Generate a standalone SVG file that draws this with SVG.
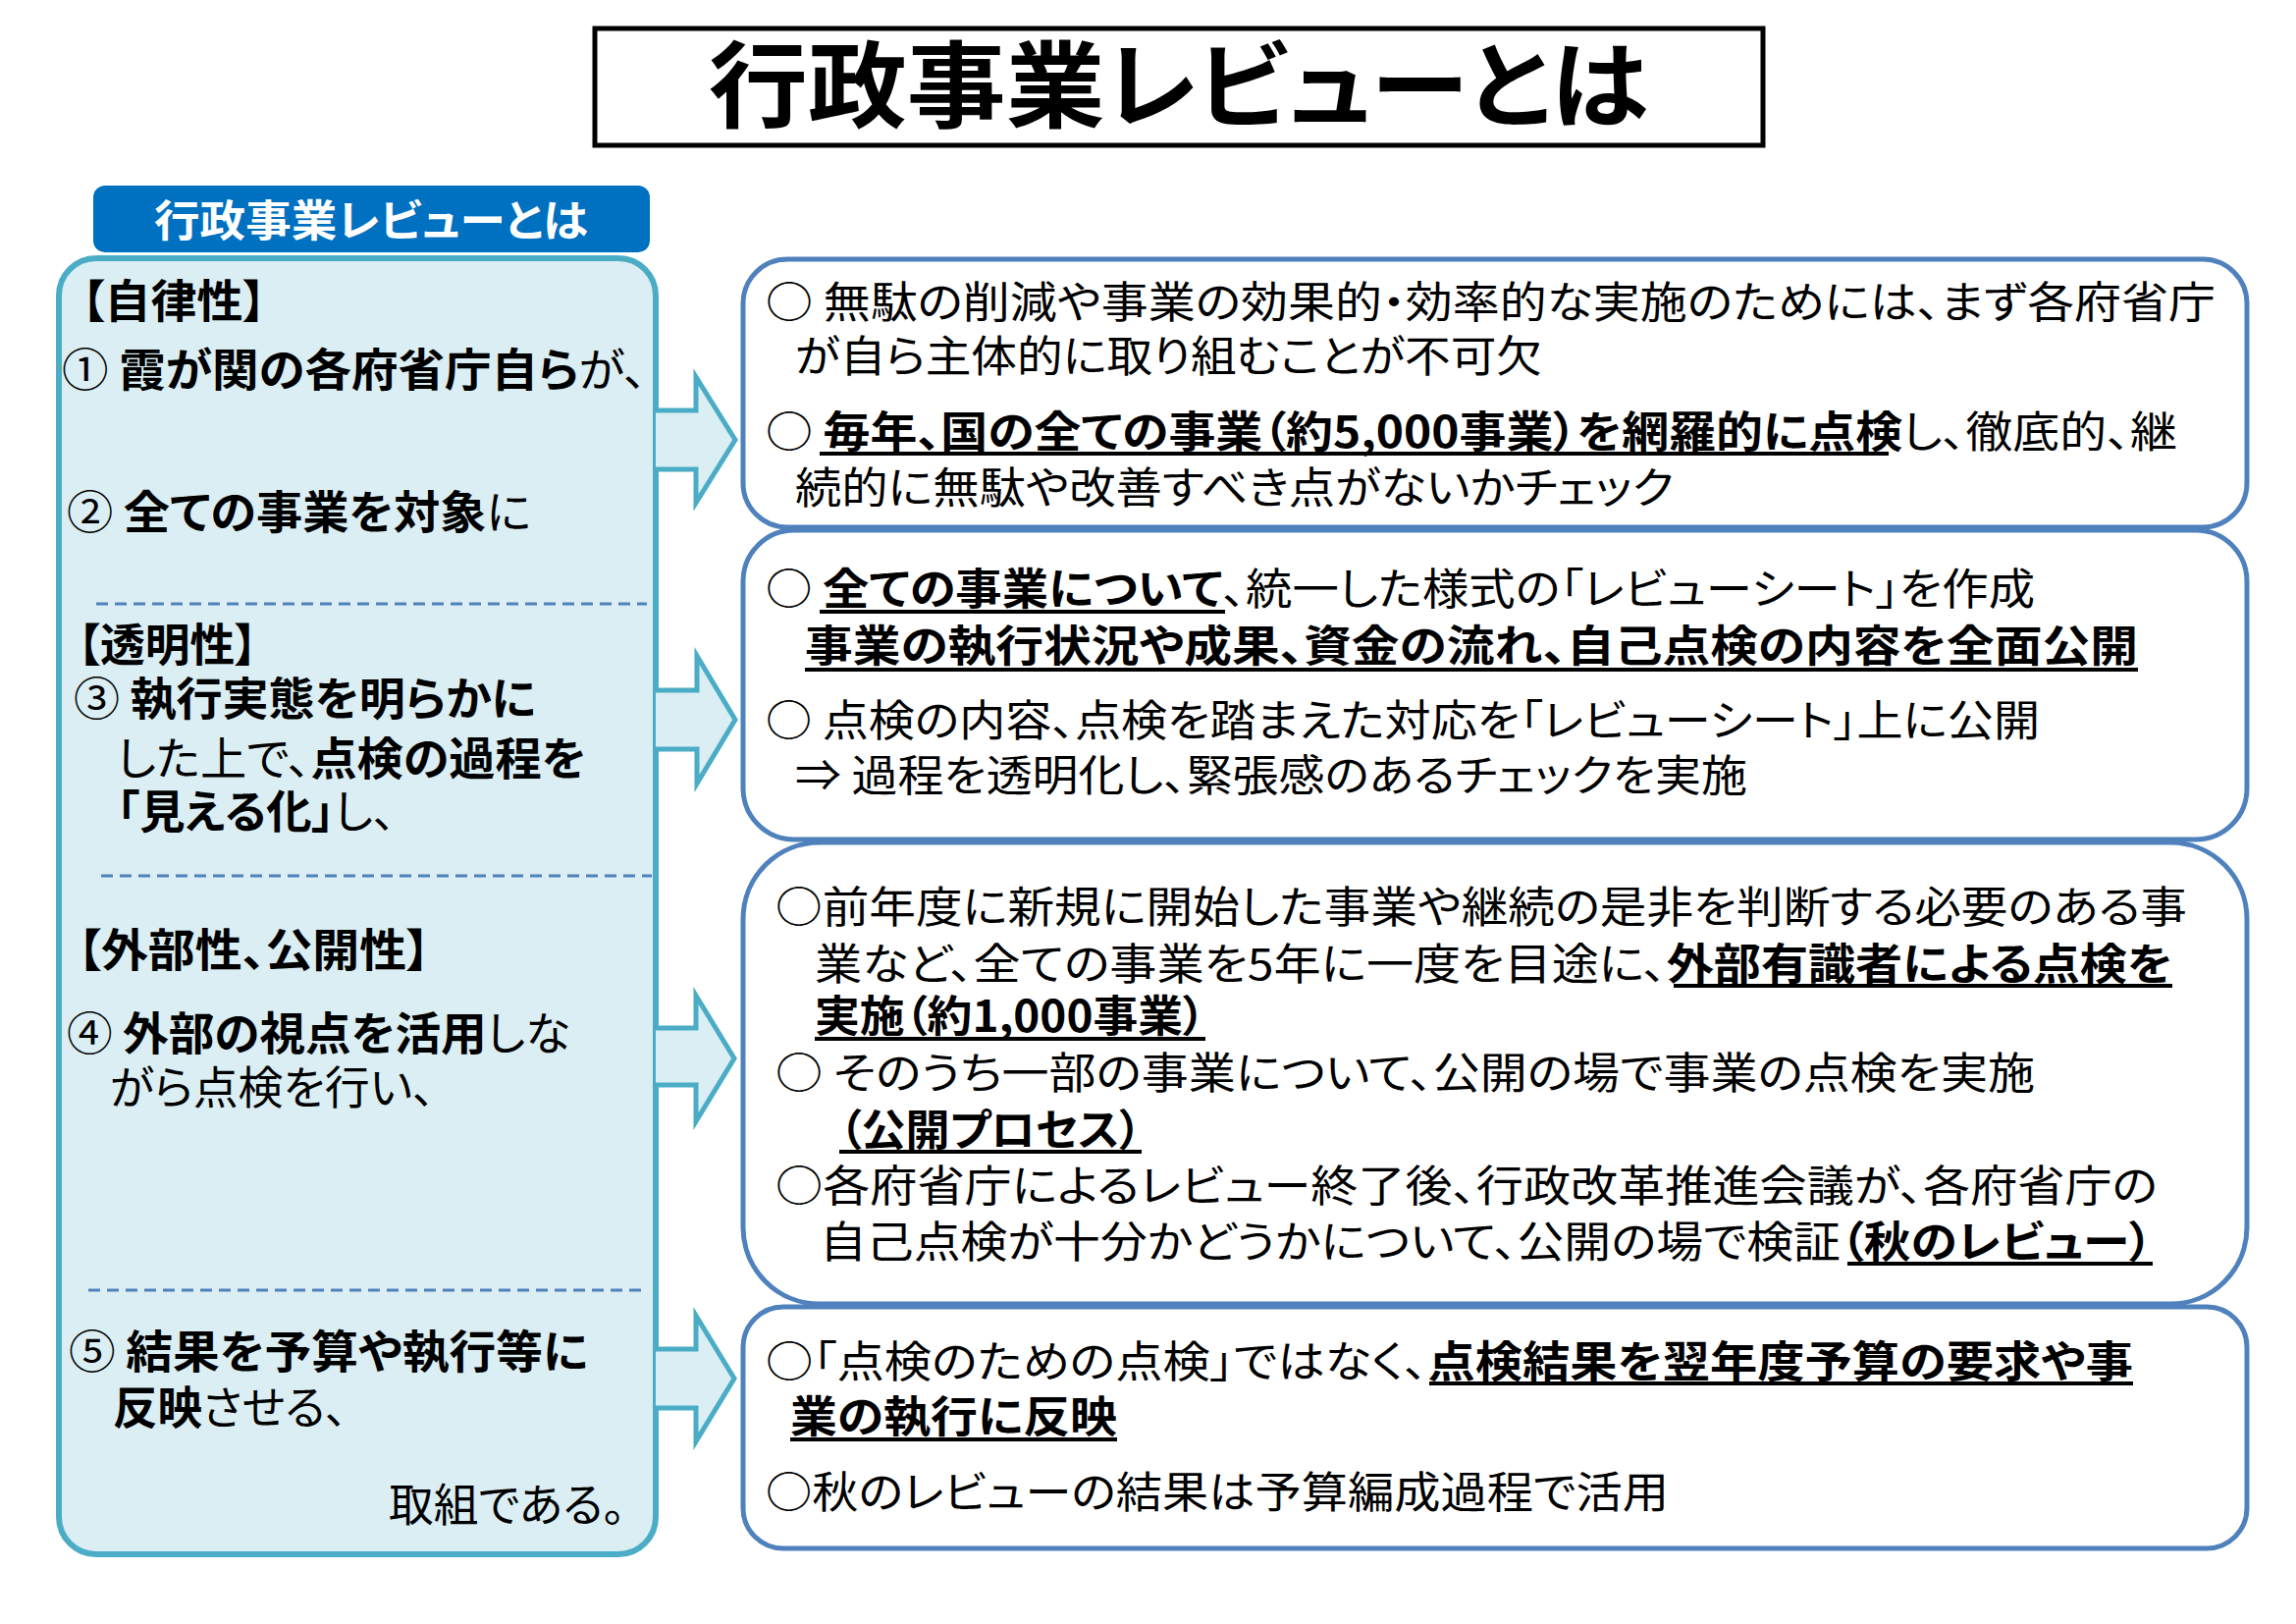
<svg xmlns="http://www.w3.org/2000/svg" width="2339" height="1654" viewBox="0 0 2339 1654">
<style>
text { font-family: "Noto Sans CJK JP", "Noto Sans", sans-serif; font-feature-settings: "palt" 1; fill: #000; }
.b { font-weight: 700; }
.r { font-weight: 400; }
.rb { font-size: 44px; }
.lp { font-size: 46px; }
.box { fill: #FFFFFF; stroke: #4F81BD; stroke-width: 5; }
.dash { stroke: #4F81BD; stroke-width: 3; stroke-dasharray: 12 7; fill: none; }
.ul { stroke: #000; stroke-width: 4; }
.arrow { fill: #DAEEF3; stroke: #4BACC6; stroke-width: 5; stroke-linejoin: miter; }
</style>
<rect width="2339" height="1654" fill="#FFFFFF"/>

<g id="title">
  <rect x="606" y="29" width="1190" height="119" fill="#FFFFFF" stroke="#000" stroke-width="5"/>
  <text x="722" y="122" font-size="96" class="b" textLength="957" lengthAdjust="spacingAndGlyphs">行政事業レビューとは</text>
</g>

<g id="header">
  <rect x="95" y="189" width="567" height="68" rx="12" fill="#0070C0"/>
  <text x="157" y="241" font-size="44" class="b" style="fill:#FFFFFF" textLength="442" lengthAdjust="spacingAndGlyphs">行政事業レビューとは</text>
</g>

<g id="left-panel">
  <rect x="60" y="263" width="608" height="1320" rx="38" fill="#DAEEF3" stroke="#4BACC6" stroke-width="6"/>
  <text class="lp b" x="83" y="323" textLength="188" lengthAdjust="spacingAndGlyphs">【自律性】</text>
  <text class="lp" x="63" y="393" textLength="596" lengthAdjust="spacingAndGlyphs"><tspan class="r">① </tspan><tspan class="b">霞が関の各府省庁自ら</tspan><tspan class="r">が、</tspan></text>
  <text class="lp" x="68" y="538" textLength="473" lengthAdjust="spacingAndGlyphs"><tspan class="r">② </tspan><tspan class="b">全ての事業を対象</tspan><tspan class="r">に</tspan></text>
  <line class="dash" x1="98" y1="615" x2="659" y2="615"/>
  <text class="lp b" x="79" y="673" textLength="183" lengthAdjust="spacingAndGlyphs">【透明性】</text>
  <text class="lp" x="75" y="728" textLength="471" lengthAdjust="spacingAndGlyphs"><tspan class="r">③ </tspan><tspan class="b">執行実態を明らかに</tspan></text>
  <text class="lp" x="119" y="789" textLength="478" lengthAdjust="spacingAndGlyphs"><tspan class="r">した上で、</tspan><tspan class="b">点検の過程を</tspan></text>
  <text class="lp" x="119" y="843" textLength="284" lengthAdjust="spacingAndGlyphs"><tspan class="b">「見える化」</tspan><tspan class="r">し、</tspan></text>
  <line class="dash" x1="103" y1="892" x2="664" y2="892"/>
  <text class="lp b" x="79" y="984" textLength="359" lengthAdjust="spacingAndGlyphs">【外部性、公開性】</text>
  <text class="lp" x="68" y="1069" textLength="513" lengthAdjust="spacingAndGlyphs"><tspan class="r">④ </tspan><tspan class="b">外部の視点を活用</tspan><tspan class="r">しな</tspan></text>
  <text class="lp r" x="112" y="1124" textLength="331" lengthAdjust="spacingAndGlyphs">がら点検を行い、</text>
  <line class="dash" x1="90" y1="1314" x2="659" y2="1314"/>
  <text class="lp" x="70" y="1393" textLength="529" lengthAdjust="spacingAndGlyphs"><tspan class="r">⑤ </tspan><tspan class="b">結果を予算や執行等に</tspan></text>
  <text class="lp" x="115" y="1450" textLength="239" lengthAdjust="spacingAndGlyphs"><tspan class="b">反映</tspan><tspan class="r">させる、</tspan></text>
  <text class="lp r" x="396" y="1549" textLength="241" lengthAdjust="spacingAndGlyphs">取組である。</text>
</g>

<g id="connectors">
  <path class="arrow" d="M668 418 H709 V384 L749 448 L709 512 V478 H668"/>
  <path class="arrow" d="M668 703 H710 V668 L749 733 L710 798 V763 H668"/>
  <path class="arrow" d="M668 1047 H709 V1014 L748 1078 L709 1142 V1105 H668"/>
  <path class="arrow" d="M668 1374 H709 V1340 L748 1404 L709 1468 V1434 H668"/>
</g>

<g id="box1">
  <rect class="box" x="757" y="264" width="1532" height="273" rx="45"/>
  <text class="rb r" x="780" y="324" textLength="1477" lengthAdjust="spacingAndGlyphs">○ 無駄の削減や事業の効果的・効率的な実施のためには、まず各府省庁</text>
  <text class="rb r" x="810" y="379" textLength="761" lengthAdjust="spacingAndGlyphs">が自ら主体的に取り組むことが不可欠</text>
  <text class="rb" x="780" y="456" textLength="1438" lengthAdjust="spacingAndGlyphs"><tspan class="r">○ </tspan><tspan class="b">毎年、国の全ての事業（約5,000事業）を網羅的に点検</tspan><tspan class="r">し、徹底的、継</tspan></text>
  <line class="ul" x1="835" y1="462" x2="1924" y2="462"/>
  <text class="rb r" x="810" y="513" textLength="895" lengthAdjust="spacingAndGlyphs">続的に無駄や改善すべき点がないかチェック</text>
</g>

<g id="box2">
  <rect class="box" x="757" y="540" width="1532" height="315" rx="52"/>
  <text class="rb" x="780" y="616" textLength="1293" lengthAdjust="spacingAndGlyphs"><tspan class="r">○ </tspan><tspan class="b">全ての事業について</tspan><tspan class="r">、統一した様式の「レビューシート」を作成</tspan></text>
  <line class="ul" x1="835" y1="623" x2="1248" y2="623"/>
  <text class="rb b" x="820" y="674" textLength="1358" lengthAdjust="spacingAndGlyphs">事業の執行状況や成果、資金の流れ、自己点検の内容を全面公開</text>
  <line class="ul" x1="820" y1="682" x2="2178" y2="682"/>
  <text class="rb r" x="780" y="750" textLength="1298" lengthAdjust="spacingAndGlyphs">○ 点検の内容、点検を踏まえた対応を「レビューシート」上に公開</text>
  <text class="rb r" x="810" y="806" textLength="970" lengthAdjust="spacingAndGlyphs">⇒ 過程を透明化し、緊張感のあるチェックを実施</text>
</g>

<g id="box3">
  <rect class="box" x="757" y="858" width="1532" height="470" rx="78"/>
  <text class="rb r" x="790" y="940" textLength="1438" lengthAdjust="spacingAndGlyphs">○前年度に新規に開始した事業や継続の是非を判断する必要のある事</text>
  <text class="rb" x="830" y="998" textLength="1383" lengthAdjust="spacingAndGlyphs"><tspan class="r">業など、全ての事業を5年に一度を目途に、</tspan><tspan class="b">外部有識者による点検を</tspan></text>
  <line class="ul" x1="1705" y1="1004" x2="2213" y2="1004"/>
  <text class="rb b" x="830" y="1051" textLength="398" lengthAdjust="spacingAndGlyphs">実施（約1,000事業）</text>
  <line class="ul" x1="830" y1="1058" x2="1228" y2="1058"/>
  <text class="rb r" x="790" y="1109" textLength="1283" lengthAdjust="spacingAndGlyphs">○ そのうち一部の事業について、公開の場で事業の点検を実施</text>
  <text class="rb b" x="855" y="1167" textLength="308" lengthAdjust="spacingAndGlyphs">（公開プロセス）</text>
  <line class="ul" x1="855" y1="1173" x2="1163" y2="1173"/>
  <text class="rb r" x="790" y="1224" textLength="1408" lengthAdjust="spacingAndGlyphs">○各府省庁によるレビュー終了後、行政改革推進会議が、各府省庁の</text>
  <text class="rb" x="835" y="1281" textLength="1358" lengthAdjust="spacingAndGlyphs"><tspan class="r">自己点検が十分かどうかについて、公開の場で検証</tspan><tspan class="b">（秋のレビュー）</tspan></text>
  <line class="ul" x1="1882" y1="1287" x2="2193" y2="1287"/>
</g>

<g id="box4">
  <rect class="box" x="757" y="1331" width="1532" height="246" rx="41"/>
  <text class="rb" x="780" y="1403" textLength="1393" lengthAdjust="spacingAndGlyphs"><tspan class="r">○「点検のための点検」ではなく、</tspan><tspan class="b">点検結果を翌年度予算の要求や事</tspan></text>
  <line class="ul" x1="1456" y1="1409" x2="2173" y2="1409"/>
  <text class="rb b" x="805" y="1459" textLength="333" lengthAdjust="spacingAndGlyphs">業の執行に反映</text>
  <line class="ul" x1="805" y1="1466" x2="1138" y2="1466"/>
  <text class="rb r" x="780" y="1536" textLength="920" lengthAdjust="spacingAndGlyphs">○秋のレビューの結果は予算編成過程で活用</text>
</g>
</svg>
